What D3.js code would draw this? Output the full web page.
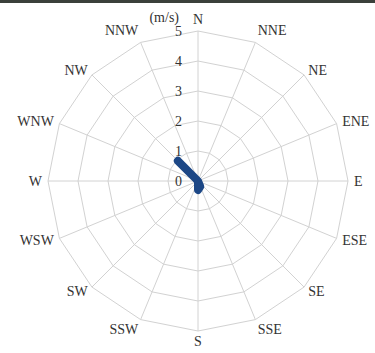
<!DOCTYPE html>
<html lang="en">
<meta charset="utf-8">
<head>
    <script src="https://d3js.org/d3.v7.min.js"></script>
</head>
<body style="margin:0;background:#fff">
<div id="chart"></div>

<style>
	svg text {
	fill: #333;
	font: 14px "Liberation Serif", "DejaVu Serif", serif;
	}
	.grid {
	fill: none;
	stroke: #d2d2d2;
	stroke-width: 1;
	}
</style>

<script>
// wind directions, clockwise from north
var directions = ["N", "NNE", "NE", "ENE", "E", "ESE", "SE", "SSE",
                  "S", "SSW", "SW", "WSW", "W", "WNW", "NW", "NNW"];
// mean wind speed (m/s) per direction
var speeds = [0, 0, 0, 0, 0, 0, 0, 0.2, 0.3, 0, 0, 0, 0, 0, 0.95, 0];
var ticks = [0, 1, 2, 3, 4, 5];
var unit = "(m/s)";

var width = 375, height = 353;
var cx = 198, cy = 181, radius = 150;

var svg = d3.select("#chart")
	.append("svg")
	.attr("width", width)
	.attr("height", height);

// dark strip at top of the screenshot
svg.append("rect")
	.attr("width", width)
	.attr("height", 3)
	.attr("fill", "#3b403b");

var g = svg.append("g")
	.attr("transform", "translate(" + cx + "," + cy + ")");

var r = d3.scaleLinear().domain([0, 5]).range([0, radius]);
var angle = d3.scalePoint()
	.domain(directions)
	.range([0, 2 * Math.PI - 2 * Math.PI / directions.length]);

function px(a, v) { return r(v) * Math.sin(a); }
function py(a, v) { return -r(v) * Math.cos(a); }

// polygon rings
ticks.slice(1).forEach(function(t) {
	g.append("path")
		.attr("class", "grid")
		.attr("d", d3.line()(directions.map(function(d) {
			return [px(angle(d), t), py(angle(d), t)];
		})) + "Z");
});

// spokes
g.selectAll(".spoke")
	.data(directions)
	.enter()
	.append("line")
	.attr("class", "grid")
	.attr("x1", 0).attr("y1", 0)
	.attr("x2", function(d) { return px(angle(d), 5); })
	.attr("y2", function(d) { return py(angle(d), 5); });

// direction labels
g.selectAll(".dir")
	.data(directions)
	.enter()
	.append("text")
	.attr("x", function(d) { return (radius + 6) * Math.sin(angle(d)); })
	.attr("y", function(d) {
		var c = Math.cos(angle(d));
		return -(radius + 6) * c - (c > 0.9 ? 6 : 0) + (c < -0.9 ? 4 : 0);
	})
	.attr("dominant-baseline", "central")
	.attr("text-anchor", function(d) {
		var s = Math.sin(angle(d));
		return s > 0.01 ? "start" : (s < -0.01 ? "end" : "middle");
	})
	.text(function(d) { return d; });

// speed labels on the north spoke
g.selectAll(".tick")
	.data(ticks)
	.enter()
	.append("text")
	.attr("x", -16)
	.attr("y", function(d) { return -r(d); })
	.attr("dominant-baseline", "central")
	.attr("text-anchor", "end")
	.text(function(d) { return d; });

g.append("text")
	.attr("x", -19)
	.attr("y", -r(5) - 14)
	.attr("dominant-baseline", "central")
	.attr("text-anchor", "end")
	.text(unit);

// data line
var line = d3.lineRadial()
	.angle(function(d, i) { return angle(directions[i]); })
	.radius(function(d) { return r(d); })
	.curve(d3.curveLinearClosed);

g.append("path")
	.attr("d", line(speeds))
	.attr("fill", "none")
	.attr("stroke", "#1c4786")
	.attr("stroke-width", 8)
	.attr("stroke-linejoin", "round")
	.attr("stroke-linecap", "round");
</script>
</body>
</html>
